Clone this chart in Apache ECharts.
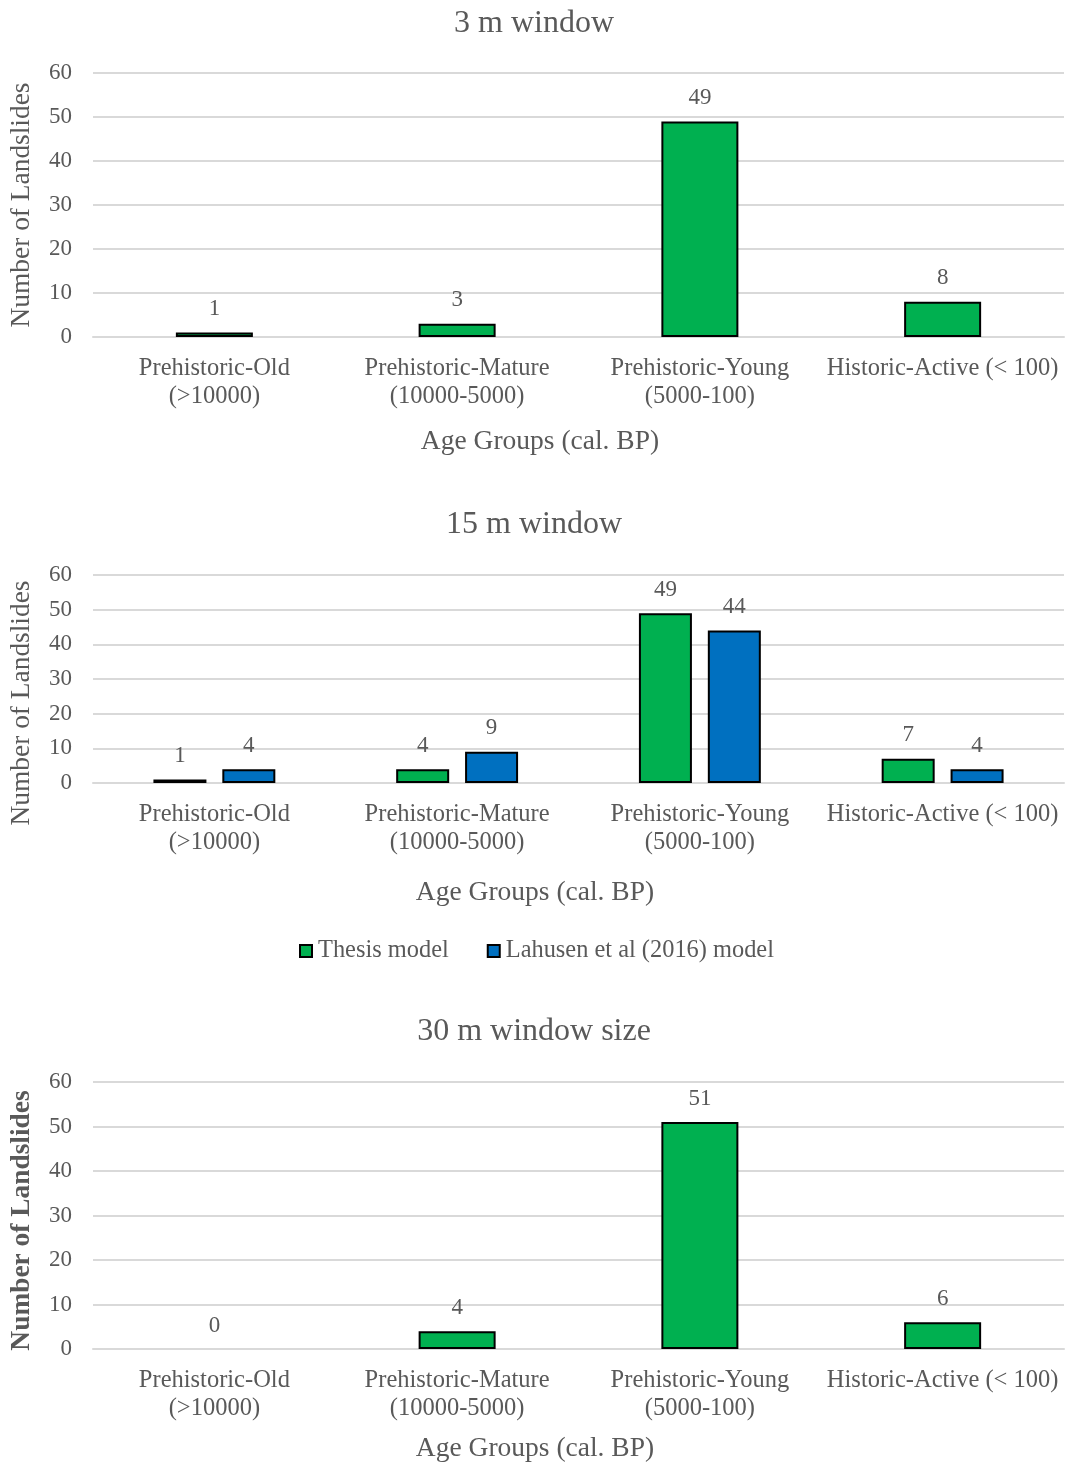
<!DOCTYPE html>
<html>
<head>
<meta charset="utf-8">
<script src="https://cdn.jsdelivr.net/npm/echarts@6/dist/echarts.min.js"></script>
<style>
  html, body { margin: 0; padding: 0; background: #ffffff; }
  #chart { width: 1068px; height: 1464px; }
</style>
</head>
<body>
<div id="chart"></div>
<script>
// Landslide counts per age group for three moving-window sizes
const categories = [
  'Prehistoric-Old\n(>10000)',
  'Prehistoric-Mature\n(10000-5000)',
  'Prehistoric-Young\n(5000-100)',
  'Historic-Active (< 100)'
];
const thesis3m = [1, 3, 49, 8];
const thesis15m = [1, 4, 49, 7];
const lahusen15m = [4, 9, 44, 4];
const thesis30m = [0, 4, 51, 6];

const panelTitles = ['3 m window', '15 m window', '30 m window size'];
const seriesNames = ['Thesis model', 'Lahusen et al (2016) model'];
const xAxisTitle = 'Age Groups (cal. BP)';
const yAxisTitle = 'Number of Landslides';
const yMin = 0, yMax = 60, yStep = 10;

const FONT = '"Liberation Serif", "Times New Roman", serif';
const TEXT = '#595959';
const GRID_LINE = '#d9d9d9';
const GREEN = '#00b050';
const BLUE = '#0070c0';

// Plot rectangles for the three stacked panels
const grids = [
  { left: 93, right: 4, top: 73, height: 264 },
  { left: 93, right: 4, top: 575, height: 208 },
  { left: 93, right: 4, top: 1082, height: 267 }
];
// Vertical shift of the rotated y-axis title (text-frame padding)
const yNamePad = [[0, 0, 0, 0], [0, 48, 0, 0], [0, 10, 0, 0]];
const yNameWeight = ['normal', 'normal', 'bold'];
const panelTitleTop = [8, 509, 1016];
const xTitleTop = [428, 879, 1435];
const xTitleCenter = [540, 535, 535];

function makeTitle(text, top, left, size) {
  return {
    text: text, left: left, top: top, textAlign: 'center', padding: 0,
    textStyle: { fontFamily: FONT, fontSize: size, fontWeight: 'normal', color: TEXT }
  };
}

function barSeries(name, values, gridIndex, color, width, gap) {
  return {
    type: 'bar', name: name,
    xAxisIndex: gridIndex, yAxisIndex: gridIndex,
    barWidth: width, barGap: gap,
    data: values.map(v => v === 0 ? { value: v, itemStyle: { borderWidth: 0 } } : v),
    itemStyle: { color: color, borderColor: '#000000', borderWidth: 2 },
    label: {
      show: true, position: 'top', distance: 12,
      fontFamily: FONT, fontSize: 23, color: TEXT
    },
    emphasis: { disabled: true },
    animation: false
  };
}

const titles = [];
panelTitles.forEach((t, i) => titles.push(makeTitle(t, panelTitleTop[i], 534, 32)));
xTitleTop.forEach((top, i) => titles.push(makeTitle(xAxisTitle, top, xTitleCenter[i], 27.5)));

const option = {
  backgroundColor: '#ffffff',
  animation: false,
  title: titles,
  grid: grids.map(g => Object.assign({ outerBoundsMode: 'none', containLabel: false }, g)),
  legend: {
    data: seriesNames,
    left: 299, top: 939, padding: 0,
    icon: 'rect', itemWidth: 12, itemHeight: 12, itemGap: 38,
    itemStyle: { borderColor: '#000000', borderWidth: 2 },
    textStyle: { fontFamily: FONT, fontSize: 24.4, color: TEXT, padding: [0, 0, 0, 1] },
    selectedMode: false
  },
  xAxis: grids.map((g, i) => ({
    type: 'category', gridIndex: i, data: categories,
    axisLine: { show: true, lineStyle: { color: GRID_LINE, width: 2 } },
    axisTick: { show: false },
    axisLabel: {
      interval: 0, margin: 17, fontFamily: FONT, fontSize: 24.5,
      lineHeight: 28.5, color: TEXT
    }
  })),
  yAxis: grids.map((g, i) => ({
    type: 'value', gridIndex: i, min: yMin, max: yMax, interval: yStep,
    name: yAxisTitle, nameLocation: 'middle', nameGap: 58, nameMoveOverlap: false,
    nameTextStyle: {
      fontFamily: FONT, fontSize: 27.4, color: TEXT,
      fontWeight: yNameWeight[i], padding: yNamePad[i]
    },
    axisLine: { show: false },
    axisTick: { show: false },
    axisLabel: { margin: 21, fontFamily: FONT, fontSize: 23, color: TEXT },
    splitLine: { lineStyle: { color: GRID_LINE, width: 2 } }
  })),
  series: [
    barSeries(seriesNames[0], thesis3m, 0, GREEN, 77, '30%'),
    barSeries(seriesNames[0], thesis15m, 1, GREEN, 53, '30%'),
    barSeries(seriesNames[1], lahusen15m, 1, BLUE, 53, '30%'),
    barSeries(seriesNames[0], thesis30m, 2, GREEN, 77, '30%')
  ]
};

const chart = echarts.init(document.getElementById('chart'), null, { renderer: 'canvas' });
chart.setOption(option);
</script>
</body>
</html>
